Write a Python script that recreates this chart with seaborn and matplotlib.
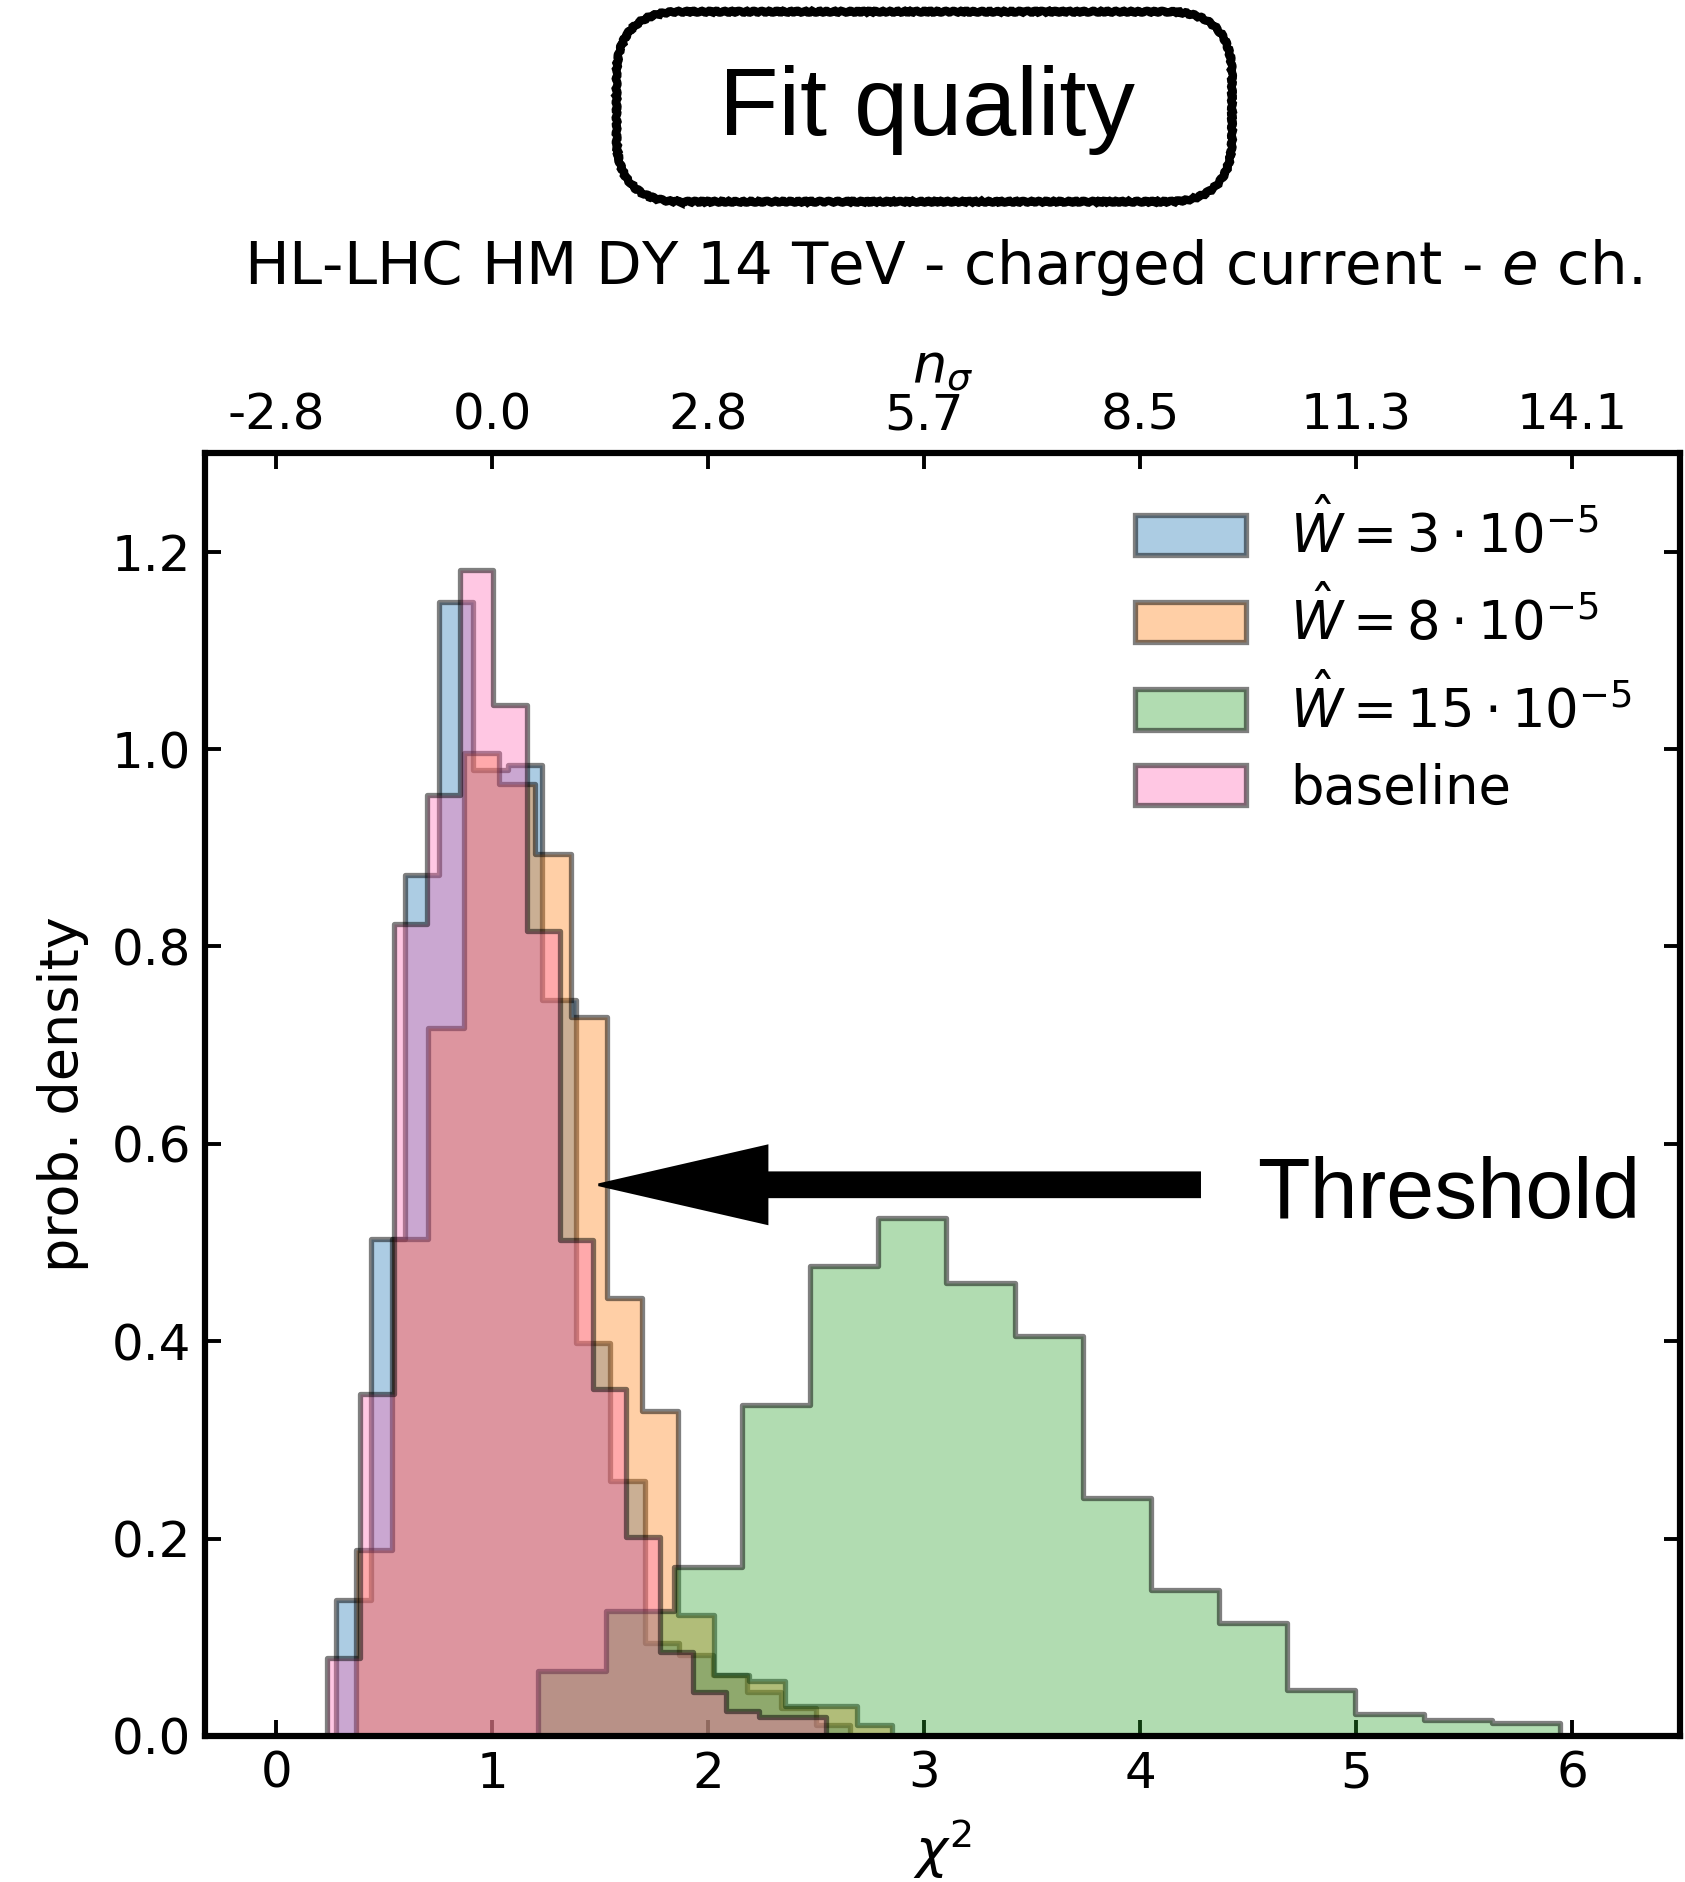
import numpy as np
import matplotlib
matplotlib.use("Agg")
import matplotlib.pyplot as plt
import seaborn as sns
from matplotlib.patches import FancyBboxPatch
from matplotlib.colors import to_rgba

# bin edges and densities (15 bins per sample)
edges_w3 = [0.278, 0.437, 0.595, 0.754, 0.912, 1.071, 1.229, 1.388, 1.546,
            1.705, 1.863, 2.022, 2.180, 2.339, 2.497, 2.656]
dens_w3 = [0.138, 0.504, 0.872, 1.149, 0.979, 0.984, 0.746, 0.398, 0.258,
           0.094, 0.082, 0.062, 0.045, 0.028, 0.011]

edges_w8 = [0.371, 0.536, 0.702, 0.867, 1.033, 1.198, 1.363, 1.529, 1.694,
            1.860, 2.025, 2.190, 2.356, 2.521, 2.687, 2.852]
dens_w8 = [0.188, 0.504, 0.717, 0.996, 0.965, 0.894, 0.729, 0.444, 0.329,
           0.123, 0.062, 0.056, 0.030, 0.030, 0.011]

edges_w15 = [1.210, 1.526, 1.841, 2.157, 2.472, 2.788, 3.103, 3.419, 3.734,
             4.050, 4.365, 4.681, 4.996, 5.312, 5.627, 5.943]
dens_w15 = [0.066, 0.127, 0.171, 0.335, 0.476, 0.525, 0.459, 0.405, 0.241,
            0.148, 0.114, 0.047, 0.022, 0.016, 0.013]

edges_base = [0.235, 0.389, 0.543, 0.697, 0.851, 1.005, 1.159, 1.313, 1.467,
              1.621, 1.775, 1.929, 2.083, 2.237, 2.391, 2.545]
dens_base = [0.079, 0.346, 0.823, 0.953, 1.181, 1.045, 0.816, 0.503, 0.352,
             0.202, 0.085, 0.045, 0.025, 0.019, 0.019]

labels = [r'$\hat{W}=3\cdot10^{-5}$', r'$\hat{W}=8\cdot10^{-5}$',
          r'$\hat{W}=15\cdot10^{-5}$', 'baseline']
colors = ['#1f77b4', '#ff7f0e', '#2ca02c', '#ff69b4']

chi2_ticks = [0, 1, 2, 3, 4, 5, 6]
nsigma_labels = ['-2.8', '0.0', '2.8', '5.7', '8.5', '11.3', '14.1']

sns.set_style("ticks", {"axes.edgecolor": "black", "text.color": "black",
                        "axes.labelcolor": "black", "xtick.color": "black",
                        "ytick.color": "black", "xtick.direction": "in",
                        "ytick.direction": "in"})
plt.rcParams['font.family'] = ['DejaVu Sans']
plt.rcParams['mathtext.fontset'] = 'dejavusans'

fig = plt.figure(figsize=(8.425, 9.41), dpi=200)
ax = fig.add_axes([0.1217, 0.0776, 0.8754, 0.6817])

series = [(edges_w3, dens_w3), (edges_w8, dens_w8),
          (edges_w15, dens_w15), (edges_base, dens_base)]
for (edges, dens), lab, col in zip(series, labels, colors):
    e = np.array(edges)
    centers = (e[:-1] + e[1:]) / 2
    sns.histplot(x=centers, weights=dens, bins=list(edges), stat='count',
                 element='step', fill=True, facecolor=to_rgba(col, 0.37),
                 edgecolor=(0, 0, 0, 0.5), linewidth=1.9, label=lab, ax=ax)

ax.set_xlim(-0.33, 6.5)
ax.set_ylim(0, 1.3)
ax.set_xticks(chi2_ticks)
ax.set_yticks([0.0, 0.2, 0.4, 0.6, 0.8, 1.0, 1.2])
ax.set_yticklabels(['0.0', '0.2', '0.4', '0.6', '0.8', '1.0', '1.2'])
ax.tick_params(direction='in', length=5.8, width=1.4, labelsize=18, pad=5,
               right=True, top=False)
for s in ax.spines.values():
    s.set_linewidth(2.2)
ax.set_xlabel(r'$\chi^2$', fontsize=19.5, labelpad=7)
ax.set_ylabel('prob. density', fontsize=19.5, labelpad=8)

# threshold arrow
ax.arrow(4.275, 0.5585, 1.492 - 4.275, 0, width=0.0243, head_width=0.0785,
         head_length=0.78, length_includes_head=True, color='k', zorder=5)
ax.text(4.54, 0.525, 'Threshold', fontsize=31, family='Liberation Sans',
        ha='left', va='baseline')

ax.legend(loc='upper right', frameon=False, fontsize=19, handlelength=2.1,
          handleheight=0.8, handletextpad=0.85, labelspacing=0.45)

# top axis in n_sigma
ax2 = ax.twiny()
ax2.set_xlim(ax.get_xlim())
ax2.set_xticks(chi2_ticks)
ax2.set_xticklabels(nsigma_labels)
ax2.tick_params(direction='in', length=5.8, width=1.4, labelsize=18, pad=5)
ax2.set_xlabel(r'$n_\sigma$', fontsize=19.5, labelpad=3)
for s in ax2.spines.values():
    s.set_linewidth(2.2)

ax.set_title(r'HL-LHC HM DY 14 TeV - charged current - $e$ ch.',
             fontsize=21.4, pad=21)

# hand-drawn style box
box = FancyBboxPatch((3.083, 8.4015), 3.077, 0.95,
                     boxstyle="round,pad=0,rounding_size=0.32",
                     transform=fig.dpi_scale_trans, fill=False, lw=3.0,
                     edgecolor='k')
box.set_sketch_params(0.9, 8, 2)
fig.add_artist(box)
fig.text(926.7 / 1685, 1 - 135 / 1882, 'Fit quality', fontsize=35,
         family='Liberation Sans', ha='center', va='baseline')

fig.savefig('out.png', dpi=200)
